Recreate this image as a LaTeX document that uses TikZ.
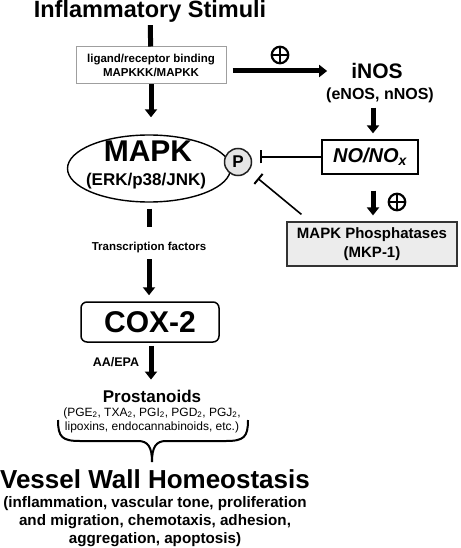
\documentclass[tikz,border=0pt]{standalone}
\usepackage{fontspec}
\setmainfont{Liberation Sans}
\usetikzlibrary{arrows.meta,shapes.geometric}
\newcommand{\fsz}[2]{\fontsize{#1}{#2}\selectfont}
\begin{document}
\begin{tikzpicture}[x=1pt,y=-1pt,
  fat/.style={line width=5pt,-{Triangle[width=12pt,length=8pt]}},
  fatline/.style={line width=5pt},
  inh/.style={line width=1.6pt,-{Bar[width=13pt,line width=2pt]}},
  lbl/.style={inner sep=0pt,align=center},
  plusc/.style={circle,draw,line width=2.2pt,minimum size=16.5pt,inner sep=0pt,outer sep=0pt},
  plusbar/.style={line width=2.2pt},
]
\useasboundingbox (0,0) rectangle (460,548);

% nodes
\node[lbl,font=\bfseries\fsz{23.5}{28}] (title) at (150,11) {Inflammatory Stimuli};
\node[draw=gray!75,line width=1pt,minimum width=150pt,minimum height=37pt,inner sep=0pt,
      font=\bfseries\fsz{11.5}{14},align=center] (lig) at (151,65.5) {ligand/receptor binding\\MAPKKK/MAPKK};
\node[lbl,font=\bfseries\fsz{21}{25}] (inos) at (377,71) {iNOS};
\node[lbl,font=\bfseries\fsz{16}{19}] (enos) at (380,95) {(eNOS, nNOS)};
\node[draw,line width=1.3pt,minimum width=96pt,minimum height=34pt,inner sep=0pt,
      font=\bfseries\itshape\fsz{20}{24}] (nobox) at (370,157) {NO/NO\textsubscript{x}};
\node[draw,ellipse,line width=1.4pt,minimum width=163pt,minimum height=67pt,inner sep=0pt] (mapk) at (149,168.5) {};
\node[lbl,font=\bfseries\fsz{30}{36}] (mapkt) at (148,151) {MAPK};
\node[lbl,font=\bfseries\fsz{17}{20}] (erk) at (146,181.5) {(ERK/p38/JNK)};
\node[circle,draw=gray!25!black,fill=gray!20,line width=1.5pt,minimum size=27pt,inner sep=0pt,
      font=\bfseries\fsz{17}{20}] (p) at (238,162) {P};
\node[draw=gray!40!black,fill=gray!15,line width=1.2pt,minimum width=170pt,minimum height=44pt,inner sep=0pt,
      font=\bfseries\fsz{15}{19},align=center] (mkp) at (372,244) {MAPK Phosphatases\\(MKP-1)};
\node[lbl,font=\bfseries\fsz{11.5}{14}] (tf) at (149,248) {Transcription factors};
\node[draw,rounded corners=6pt,line width=1.5pt,minimum width=138pt,minimum height=40pt,inner sep=0pt,
      font=\bfseries\fsz{30}{36}] (cox) at (150,322) {COX-2};
\node[lbl,font=\bfseries\fsz{12.5}{15}] (aa) at (116,362) {AA/EPA};
\node[lbl,font=\bfseries\fsz{17}{20}] (pros) at (152,396) {Prostanoids};
\node[lbl,font=\fsz{12}{14}] (prlist) at (152,420) {(PGE\textsubscript{2}, TXA\textsubscript{2}, PGI\textsubscript{2}, PGD\textsubscript{2}, PGJ\textsubscript{2},\\lipoxins, endocannabinoids, etc.)};
\node[lbl,font=\bfseries\fsz{26}{30}] (vessel) at (155,479) {Vessel Wall Homeostasis};
\node[lbl,font=\bfseries\fsz{15.2}{18}] (vlist) at (155,522) {(inflammation, vascular tone, proliferation\\and migration, chemotaxis, adhesion,\\aggregation, apoptosis)};

% plus signs
\node[plusc] (plusA) at (280,55) {};
\draw[plusbar] (plusA.north) -- (plusA.south) (plusA.west) -- (plusA.east);
\node[plusc] (plusB) at (397,202) {};
\draw[plusbar] (plusB.north) -- (plusB.south) (plusB.west) -- (plusB.east);

% connectors
\draw[fatline,shorten <=3pt] (title) -- (lig);
\draw[fat,shorten >=17pt] (lig) -- (mapk.north -| lig);
\draw[fat,shorten <=6pt,shorten >=24pt] (lig.east |- inos.west) -- (inos.west);
\draw[fat,shorten <=5pt,shorten >=6pt] ([xshift=-7pt]enos.south) -- ([xshift=3pt]nobox.north);
\draw[inh,shorten >=22pt] (nobox.west) -- (nobox.west -| p);
\draw[inh,shorten >=11.3pt] ([xshift=15pt,yshift=7pt]mkp.north west) -- (p);
\draw[fat,shorten <=16pt,shorten >=6pt] ([xshift=3pt]nobox.south) -- ([xshift=1pt]mkp.north);
\draw[fatline,shorten <=6pt,shorten >=15.6pt] (mapk.south) -- (tf.north);
\draw[fat,shorten <=5.6pt,shorten >=6pt] (tf.south) -- (tf.south |- cox.north);
\draw[fat,shorten <=3pt,shorten >=10pt] ([xshift=1pt]cox.south) -- ([xshift=1pt]cox.south |- pros.north);

% brace
\draw[line width=2pt] (58,420) .. controls (58,437) and (62,441) .. (80,441) -- (138,441)
  .. controls (148,441) and (152,447) .. (152,462)
  .. controls (152,447) and (156,441) .. (166,441) -- (226,441)
  .. controls (244,441) and (248,437) .. (248,420);
\end{tikzpicture}
\end{document}
